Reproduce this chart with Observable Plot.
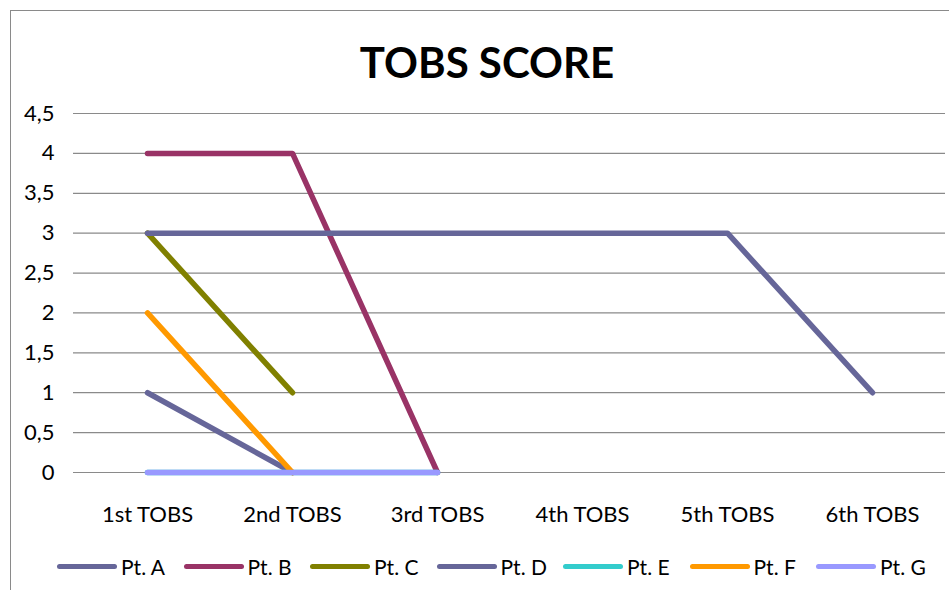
<!DOCTYPE html>
<html><head><meta charset="utf-8">
<script src="https://cdn.jsdelivr.net/npm/d3@7"></script>
<script src="https://cdn.jsdelivr.net/npm/@observablehq/plot@0.6"></script>
<style>
html,body{margin:0;padding:0;background:#fff;}
body{width:949px;height:590px;position:relative;overflow:hidden;font-family:Lato,"Open Sans",sans-serif;color:#000;}
#frame{position:absolute;left:10px;top:10px;width:960px;height:600px;border-top:1.5px solid #8a8a8a;border-left:1.5px solid #8a8a8a;}
#title{position:absolute;top:37px;left:0;width:974px;text-align:center;font-weight:bold;font-size:42px;line-height:50px;}
#chart{position:absolute;left:0;top:100px;}
#legend{position:absolute;top:554px;left:0;width:949px;height:24px;}
.item{position:absolute;top:0;height:24px;display:flex;align-items:center;font-size:21px;}
.sw{width:60px;height:5px;border-radius:3px;margin-right:4px;}
</style>
</head><body>
<div id="frame"></div>
<div id="title">TOBS SCORE</div>
<div id="chart"></div>
<div id="legend"></div>
<script>
const categories = ["1st TOBS","2nd TOBS","3rd TOBS","4th TOBS","5th TOBS","6th TOBS"];
const seriesNames = ["Pt. A","Pt. B","Pt. C","Pt. D","Pt. E","Pt. F","Pt. G"];
const seriesColors = ["#666699","#993366","#808000","#666699","#33CCCC","#FF9900","#9999FF"];
const ptA = [1, 0, null, null, null, null];
const ptB = [4, 4, 0, null, null, null];
const ptC = [3, 1, null, null, null, null];
const ptD = [3, 3, 3, 3, 3, 1];
const ptE = [0, 0, 0, null, null, null];
const ptF = [2, 0, null, null, null, null];
const ptG = [0, 0, 0, null, null, null];
const yTicks = [0, 0.5, 1, 1.5, 2, 2.5, 3, 3.5, 4, 4.5];

const allSeries = [ptA, ptB, ptC, ptD, ptE, ptF, ptG];
const rows = [];
allSeries.forEach((vals, si) => {
  vals.forEach((v, ci) => {
    if (v !== null) rows.push({series: seriesNames[si], cat: categories[ci], value: v, order: si});
  });
});

const fmt = d => String(d).replace(".", ",");

const plot = Plot.plot({
  width: 949,
  height: 432,
  marginLeft: 73,
  marginRight: 4,
  marginTop: 13,
  marginBottom: 60,
  style: {fontFamily: "Lato, 'Open Sans', sans-serif", fontSize: "22px", color: "#000", background: "transparent"},
  x: {type: "point", domain: categories, padding: 0.5, label: null, tickSize: 0, tickPadding: 34},
  y: {domain: [0, 4.5], ticks: yTicks, tickFormat: fmt, label: null, tickSize: 0, tickPadding: 19},
  color: {domain: seriesNames, range: seriesColors},
  marks: [
    Plot.ruleY(yTicks, {stroke: "#8a8a8a", strokeWidth: 1.2}),
    ...seriesNames.map((name, i) =>
      Plot.line(rows.filter(r => r.series === name), {
        x: "cat", y: "value", stroke: seriesColors[i], strokeWidth: 5.5,
        strokeLinecap: "round", strokeLinejoin: "round"
      })
    )
  ]
});
document.getElementById("chart").appendChild(plot);

const legend = document.getElementById("legend");
seriesNames.forEach((name, i) => {
  const it = document.createElement("div");
  it.className = "item";
  it.style.left = (57 + i * 126.5) + "px";
  const sw = document.createElement("div");
  sw.className = "sw";
  sw.style.background = seriesColors[i];
  const tx = document.createElement("span");
  tx.textContent = name;
  it.appendChild(sw); it.appendChild(tx);
  legend.appendChild(it);
});
</script>
</body></html>
